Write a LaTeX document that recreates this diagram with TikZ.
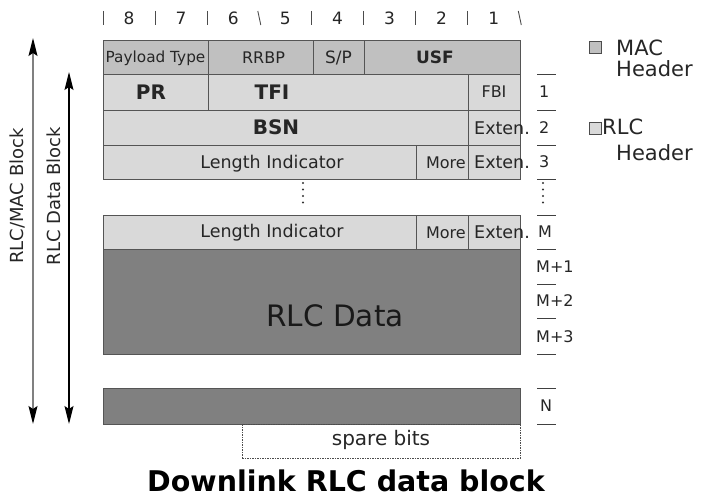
\documentclass[tikz,border=0pt]{standalone}
\usepackage{fontspec}
\setmainfont{DejaVu Sans}
\usetikzlibrary{arrows.meta}
\definecolor{macgray}{HTML}{C0C0C0}
\definecolor{rlcgray}{HTML}{D9D9D9}
\definecolor{datagray}{HTML}{808080}
\definecolor{edge}{HTML}{555555}
\begin{document}
\begin{tikzpicture}[x=1pt,y=-1pt,
  cell/.style={draw=edge,line width=0.9pt,inner sep=0pt,outer sep=0pt},
  mac/.style={cell,fill=macgray},
  rlc/.style={cell,fill=rlcgray},
  dat/.style={cell,fill=datagray},
  fs/.style={font=\fontsize{#1}{#1}\selectfont},
  fsb/.style={font=\fontsize{#1}{#1}\selectfont\bfseries},
  lbl/.style={inner sep=0pt,text=black!85},
  rowline/.style={line width=0.8pt,black!75},
  dotted4/.style={fill=black!80},
  blockarrow/.style={line width=1.5pt,{Stealth[length=18pt,width=9pt,inset=3pt,color=black]}-{Stealth[length=18pt,width=9pt,inset=3pt,color=black]}}
]
\useasboundingbox (0,0) rectangle (714,502);

% bit numbering
\foreach \b [count=\i] in {8,7,6,5,4,3,2,1}
  \node[lbl,fs=17] (bit\b) at ({103+52.1*(\i-0.5)},18) {\b};
\foreach \i/\s in {0/0,1/0,2/0,3/1.5,4/0,5/0,6/0,7/0,8/1.5}
  \draw[black!70,line width=0.9pt] ({103+52.1*\i-\s},11) -- ({103+52.1*\i+\s},25);

% MAC header
\node[mac,minimum width=105pt,minimum height=34pt,anchor=north west] (pt) at (103,40) {};
\node[mac,minimum width=105pt,minimum height=34pt,anchor=north west] (rrbp) at (208,40) {};
\node[mac,minimum width=51pt,minimum height=34pt,anchor=north west] (sp) at (313,40) {};
\node[mac,minimum width=156pt,minimum height=34pt,anchor=north west] (usf) at (364,40) {};
\node[lbl,fs=15.3] at ([yshift=-1pt]pt.center) {Payload Type};
\node[lbl,fs=16] at ([xshift=3pt,yshift=-1pt]rrbp.center) {RRBP};
\node[lbl,fs=17] at ([yshift=-1pt]sp.center) {S/P};
\node[lbl,fsb=17] at ([xshift=-7pt]usf.center) {USF};

% RLC header
\node[rlc,minimum width=105pt,minimum height=36pt,anchor=north west] (pr) at (103,74) {};
\node[rlc,minimum width=260pt,minimum height=36pt,anchor=north west] (tfi) at (208,74) {};
\node[rlc,minimum width=52pt,minimum height=36pt,anchor=north west] (fbi) at (468,74) {};
\node[lbl,fsb=20] at (151,92) {PR};
\node[lbl,fsb=20] at (272,92) {TFI};
\node[lbl,fs=16] at (fbi.center) {FBI};

\node[rlc,minimum width=365pt,minimum height=35pt,anchor=north west] (bsn) at (103,110) {};
\node[rlc,minimum width=52pt,minimum height=35pt,anchor=north west] (ex2) at (468,110) {};
\node[lbl,fsb=20] at (276,127.5) {BSN};
\node[lbl,fs=17.5,anchor=west] at (474,128) {Exten.};

\node[rlc,minimum width=313pt,minimum height=34pt,anchor=north west] (li1) at (103,145) {};
\node[rlc,minimum width=52pt,minimum height=34pt,anchor=north west] (mo1) at (416,145) {};
\node[rlc,minimum width=52pt,minimum height=34pt,anchor=north west] (ex3) at (468,145) {};
\node[lbl,fs=17.5] at (272,164) {Length Indicator};
\node[lbl,fs=16,anchor=east] at ([xshift=-2pt,yshift=-1pt]mo1.east) {More};
\node[lbl,fs=17.5,anchor=west] at (474,162) {Exten.};

% vertical ellipsis
\foreach \yy in {183,189.5,196,202.5} {
  \fill[dotted4] (303,\yy) circle (1.2pt);
  \fill[dotted4] (543,\yy) circle (1.2pt);
}

\node[rlc,minimum width=313pt,minimum height=34pt,anchor=north west] (li2) at (103,215) {};
\node[rlc,minimum width=52pt,minimum height=34pt,anchor=north west] (mo2) at (416,215) {};
\node[rlc,minimum width=52pt,minimum height=34pt,anchor=north west] (exm) at (468,215) {};
\node[lbl,fs=17.5] at (272,233) {Length Indicator};
\node[lbl,fs=16,anchor=east] at ([xshift=-2pt,yshift=-1pt]mo2.east) {More};
\node[lbl,fs=17.5,anchor=west] at (474,232) {Exten.};

% RLC data
\node[dat,minimum width=417pt,minimum height=105pt,anchor=north west] (data) at (103,249) {};
\node[lbl,fs=29.5,text=black!90] at (335,316) {RLC Data};
\node[dat,minimum width=417pt,minimum height=36pt,anchor=north west] (last) at (103,388) {};
\node[draw=black!70,dashed,dash pattern=on 1.5pt off 1pt,line width=0.7pt,minimum width=278pt,minimum height=34pt,anchor=north west,inner sep=0pt] (spare) at (242,424) {};
\node[lbl,fs=20] at (381,440) {spare bits};

% octet numbering
\foreach \yy in {74,110,145,179,215,249,284,318,354,388,424}
  \draw[rowline] (537,\yy) -- (556,\yy);
\node[lbl,fs=16,anchor=west] at (539,92) {1};
\node[lbl,fs=16,anchor=west] at (539,128) {2};
\node[lbl,fs=16,anchor=west] at (539,162) {3};
\node[lbl,fs=16,anchor=west] at (538,232) {M};
\node[lbl,fs=16,anchor=west] at (536,267) {M+1};
\node[lbl,fs=16,anchor=west] at (536,301) {M+2};
\node[lbl,fs=16,anchor=west] at (536,337) {M+3};
\node[lbl,fs=16,anchor=west] at (540,406) {N};

% block extents
\coordinate (macTop) at (33,38);
\coordinate (macBot) at (33,424);
\coordinate (datTop) at (69,72);
\coordinate (datBot) at (69,424);
\draw[blockarrow,draw=black!50] (macTop) -- (macBot);
\draw[blockarrow,line width=1.3pt] (datTop) -- (datBot);
\node[lbl,fs=18,rotate=90] at (17,196) {RLC/MAC Block};
\node[lbl,fs=18,rotate=90] at (54,196) {RLC Data Block};

% legend
\node[draw=black!70,fill=macgray,minimum size=12pt,inner sep=0pt,line width=0.8pt] (legmac) at (595,47) {};
\node[lbl,anchor=north west,align=left,font=\fontsize{21}{21}\selectfont] at (616,40) {MAC\\Header};
\node[draw=black!70,fill=rlcgray,minimum size=12pt,inner sep=0pt,line width=0.8pt] (legrlc) at (595,128) {};
\node[lbl,anchor=north west,align=left,font=\fontsize{21}{26}\selectfont] at (602,119) {RLC\\\hspace*{14pt}Header};

% title
\node[lbl,text=black,font=\fontsize{28.5}{28.5}\selectfont\bfseries] at (346,481) {Downlink RLC data block};
\end{tikzpicture}
\end{document}
